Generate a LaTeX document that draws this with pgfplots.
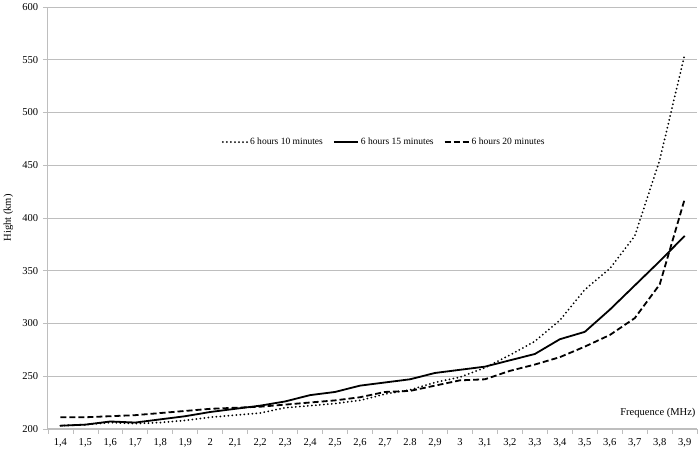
\documentclass[border=0pt]{standalone}
\usepackage{fontspec}
\setmainfont{Liberation Serif}
\usepackage{pgfplots}
\pgfplotsset{compat=1.18}
\definecolor{gridgray}{RGB}{190,190,190}
\begin{document}
\fontsize{10.5}{12}\selectfont
\begin{tikzpicture}
\begin{axis}[
  scale only axis,
  width=645bp, height=419bp,
  xmin=-0.5, xmax=25.5,
  ymin=200, ymax=600,
  ytick={200,250,...,600},
  xtick={0,...,25},
  xticklabels={{1,4},{1,5},{1,6},{1,7},{1,8},{1,9},{2},{2,1},{2,2},{2,3},{2,4},{2,5},{2,6},{2,7},{2.8},{2,9},{3},{3,1},{3,2},{3,3},{3,4},{3,5},{3,6},{3,7},{3,8},{3,9}},
  minor xtick={-0.5,0.5,...,25.5},
  major x tick style={draw=none},
  minor x tick style={gridgray, line width=0.6pt},
  y tick style={gridgray, line width=0.6pt},
  tick align=outside,
  major tick length=5bp, minor tick length=5bp,
  ymajorgrids,
  grid style={gridgray, line width=0.6pt},
  axis x line*=bottom, axis y line*=left,
  axis line style={gridgray, line width=0.8pt, -},
  tick label style={font=\fontsize{10.5}{12}\selectfont, /pgf/number format/assume math mode=true},
  xticklabel style={yshift=-1bp},
  yticklabel style={xshift=-1bp},
  ylabel={Hight (km)},
  ylabel style={font=\fontsize{10.5}{12}\selectfont, yshift=2bp},
  xlabel={Frequence (MHz)},
  xlabel style={at={(rel axis cs:1,0)}, anchor=south east, font=\fontsize{10.5}{12}\selectfont, yshift=7bp, xshift=2bp},
  legend style={at={(0.518,0.68)}, anchor=center, draw=none, fill=none, legend columns=3, font=\fontsize{9.5}{11}\selectfont,
    /tikz/every even column/.append style={column sep=8bp}},
  legend image code/.code={\draw[#1] (0bp,0bp) -- (24bp,0bp);},
]
\addplot[black, line width=2pt, dash pattern=on 0pt off 4pt, line cap=round] coordinates {
(0,203) (1,204) (2,206) (3,205) (4,206) (5,208) (6,211) (7,213) (8,215) (9,220) (10,222) (11,224) (12,227) (13,233) (14,237) (15,244) (16,249) (17,258) (18,270) (19,283) (20,303) (21,332) (22,352) (23,383) (24,455) (25,555)};
\addlegendentry{6 hours 10 minutes}
\addplot[black, line width=1.8pt] coordinates {
(0,203) (1,204) (2,207) (3,206) (4,209) (5,212) (6,216) (7,219) (8,222) (9,226) (10,232) (11,235) (12,241) (13,244) (14,247) (15,253) (16,256) (17,259) (18,265) (19,271) (20,285) (21,292) (22,313) (23,336) (24,359) (25,383)};
\addlegendentry{6 hours 15 minutes}
\addplot[black, line width=1.8pt, dash pattern=on 6pt off 3pt] coordinates {
(0,211) (1,211) (2,212) (3,213) (4,215) (5,217) (6,219) (7,220) (8,221) (9,223) (10,225) (11,227) (12,230) (13,235) (14,236) (15,241) (16,246) (17,247) (18,255) (19,261) (20,268) (21,278) (22,289) (23,305) (24,337) (25,418)};
\addlegendentry{6 hours 20 minutes}
\end{axis}
\end{tikzpicture}
\end{document}
